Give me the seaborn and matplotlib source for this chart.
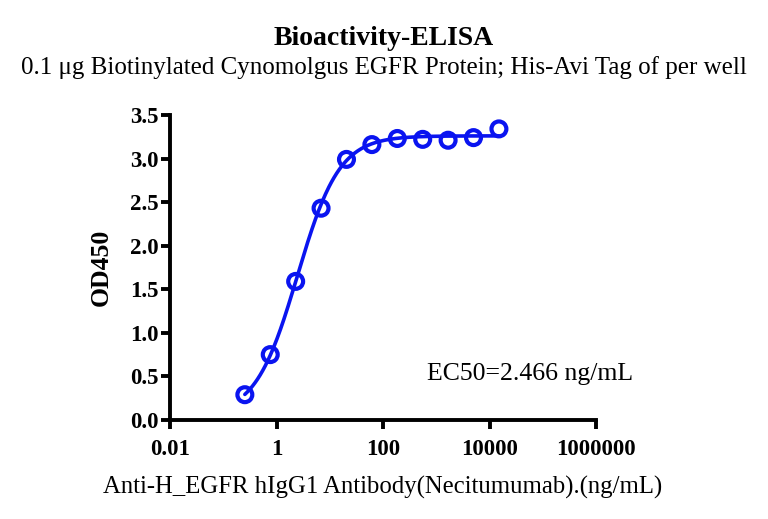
import numpy as np
import pandas as pd
import matplotlib
matplotlib.use('Agg')
import matplotlib.pyplot as plt
import seaborn as sns

# Data (3-fold dilution series, ng/mL)
conc = [0.254, 0.762, 2.286, 6.859, 20.58, 61.73, 185.2, 555.6, 1666.7, 5000.0, 15000.0]
od450 = [0.29, 0.75, 1.59, 2.43, 2.99, 3.16, 3.23, 3.22, 3.21, 3.24, 3.34]

# 4PL fit parameters for the curve
ec50 = 2.466
fit_bottom = 0.05
fit_top = 3.26
fit_hill = 1.1

y_ticks = [0.0, 0.5, 1.0, 1.5, 2.0, 2.5, 3.0, 3.5]
x_ticks = [0.01, 1, 100, 10000, 1000000]
x_tick_labels = ['0.01', '1', '100', '10000', '1000000']

df = pd.DataFrame({'conc': conc, 'od': od450})
xs = np.logspace(np.log10(conc[0]), np.log10(conc[-1]), 300)
fit = pd.DataFrame({'conc': xs,
                    'od': fit_bottom + (fit_top - fit_bottom) / (1 + (ec50 / xs) ** fit_hill)})

sns.set_style('ticks')
plt.rcParams['font.family'] = ['Liberation Serif', 'DejaVu Serif']
plt.rcParams['text.color'] = 'black'
plt.rcParams['axes.labelcolor'] = 'black'
plt.rcParams['xtick.color'] = 'black'
plt.rcParams['ytick.color'] = 'black'
plt.rcParams['axes.edgecolor'] = 'black'
blue = '#0a14f0'

fig = plt.figure(figsize=(7.68, 5.19), dpi=100)
ax = fig.add_axes([0.2214, 0.1908, 0.5547, 0.5877])

sns.lineplot(data=fit, x='conc', y='od', ax=ax, color=blue, linewidth=2.6)
sns.scatterplot(data=df, x='conc', y='od', ax=ax, s=115, facecolor='none',
                edgecolor=blue, linewidth=3.0, zorder=5)

ax.set_xscale('log')
ax.set_xlim(0.01, 1000000)
ax.set_ylim(0, 3.5)
ax.set_xticks(x_ticks)
ax.set_xticklabels(x_tick_labels)
ax.minorticks_off()
ax.set_yticks(y_ticks)
ax.set_yticklabels([f'{v:.1f}' for v in y_ticks])
for lab in ax.get_xticklabels() + ax.get_yticklabels():
    lab.set_fontweight('bold')
    lab.set_fontsize(16.5)

sns.despine(ax=ax)
for s in ['left', 'bottom']:
    ax.spines[s].set_linewidth(2.8)
ax.tick_params(width=2.8, length=6.5, direction='out')
ax.tick_params(axis='x', pad=7)
ax.tick_params(axis='y', pad=2)

ax.set_xlabel('Anti-H_EGFR hIgG1 Antibody(Necitumumab).(ng/mL)', fontsize=17.8, labelpad=12)
ax.set_ylabel('OD450', fontsize=18.5, fontweight='bold', labelpad=12)

ax.text(660, 0.46, f'EC50={ec50} ng/mL', fontsize=18.5)

fig.text(0.5, 0.926, 'Bioactivity-ELISA', ha='center', va='center', fontsize=20, fontweight='bold')
fig.text(0.5, 0.869, '0.1 \u03bcg Biotinylated Cynomolgus EGFR Protein; His-Avi Tag of per well',
         ha='center', va='center', fontsize=18)

plt.savefig('out.png', dpi=100)
plt.close()
